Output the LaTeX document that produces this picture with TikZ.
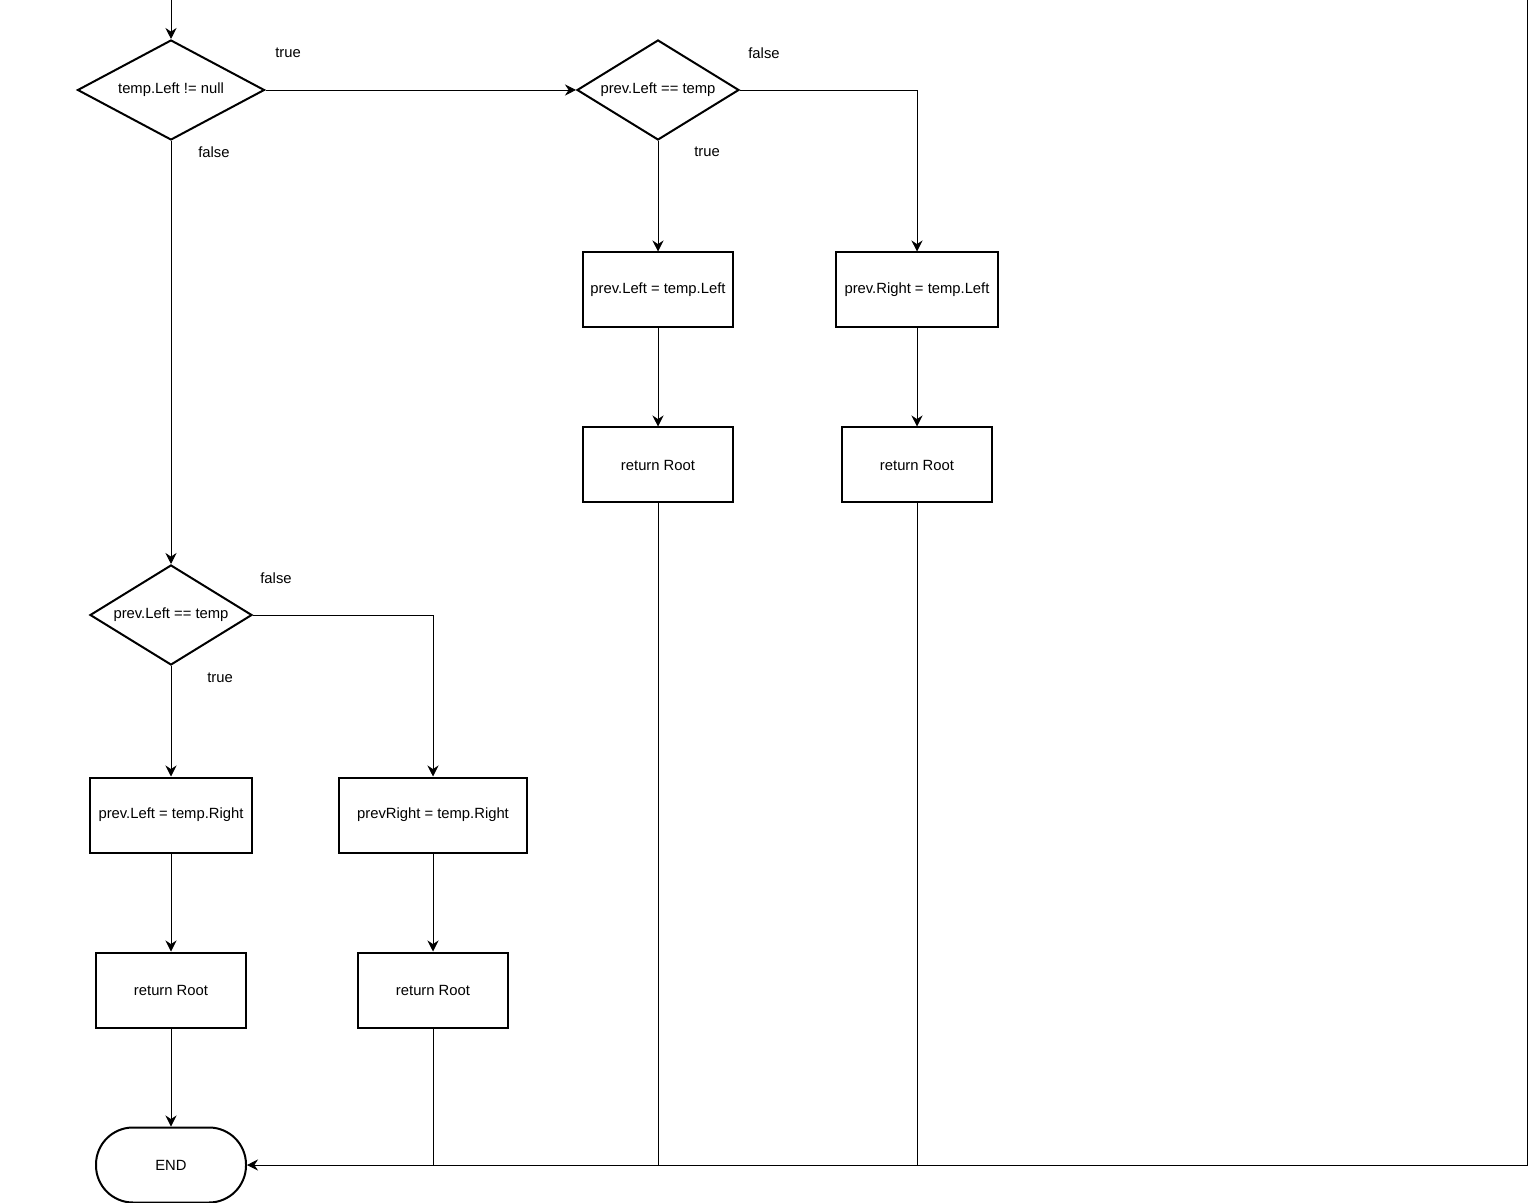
\documentclass[tikz,border=0pt]{standalone}
\usepackage{fontspec}
\setmainfont{Liberation Sans}
\usetikzlibrary{arrows.meta,shapes.geometric}
\tikzset{>={Stealth[length=5.5pt,width=5.5pt,inset=1.8pt]},line width=.5pt,
  every node/.style={font=\fontsize{7.4}{9}\selectfont},
  decision/.style={diamond,draw,line width=1pt,aspect=1.6,inner sep=0pt,
    minimum width=#1,minimum height=50pt},decision/.default=81pt,
  process/.style={rectangle,draw,line width=1pt,inner sep=0pt,
    minimum width=#1,minimum height=37.5pt},process/.default=75pt,
  terminal/.style={rectangle,rounded corners=18.5pt,draw,line width=1pt,
    minimum width=75pt,minimum height=37.5pt},
  tag/.style={inner sep=1pt}}
\begin{document}
\begin{tikzpicture}[x=.5pt,y=-.5pt]
\useasboundingbox(0,0)rectangle(1538,1203);
\coordinate(top)at(171,0);\coordinate(rim)at(1527,0);
% decisions
\node[decision=93.5pt](d1)at(171,90){temp.Left != null};
\node[decision](d2)at(658,90){prev.Left == temp};
\node[decision](d3)at(171,615){prev.Left == temp};
% right branch
\node[process](b1)at(658,290){prev.Left = temp.Left};
\node[process=81pt](b2)at(917,290){prev.Right = temp.Left};
\node[process](r1)at(658,465){return Root};
\node[process](r2)at(917,465){return Root};
% left branch
\node[process=81pt](b3)at(171,815){prev.Left = temp.Right};
\node[process=94pt](b4)at(433,815){prevRight = temp.Right};
\node[process](r3)at(171,990){return Root};
\node[process](r4)at(433,990){return Root};
\node[terminal](e)at(171,1165){END};
% branch labels
\node[tag](t1)at(288,53){true};\node[tag](f1)at(214,152){false};
\node[tag](f2)at(764,53){false};\node[tag](t2)at(707,152){true};
\node[tag](f3)at(276,578){false};\node[tag](t3)at(220,678){true};
% connectors
\draw[->](top)--(d1);\draw[->](d1)--(d2);\draw[->](d1)--(d3);
\draw[->](d2)--(b1);\draw[->](d2.east)-|(b2);
\draw[->](b1)--(r1);\draw[->](b2)--(r2);
\draw[->](d3)--(b3);\draw[->](d3.east)-|(b4);
\draw[->](b3)--(r3);\draw[->](b4)--(r4);\draw[->](r3)--(e);
\draw(r4)--(r4|-e);\draw(r1)--(r1|-e);\draw(r2)--(r2|-e);
\draw[->](rim)|-(e);
\end{tikzpicture}
\end{document}
